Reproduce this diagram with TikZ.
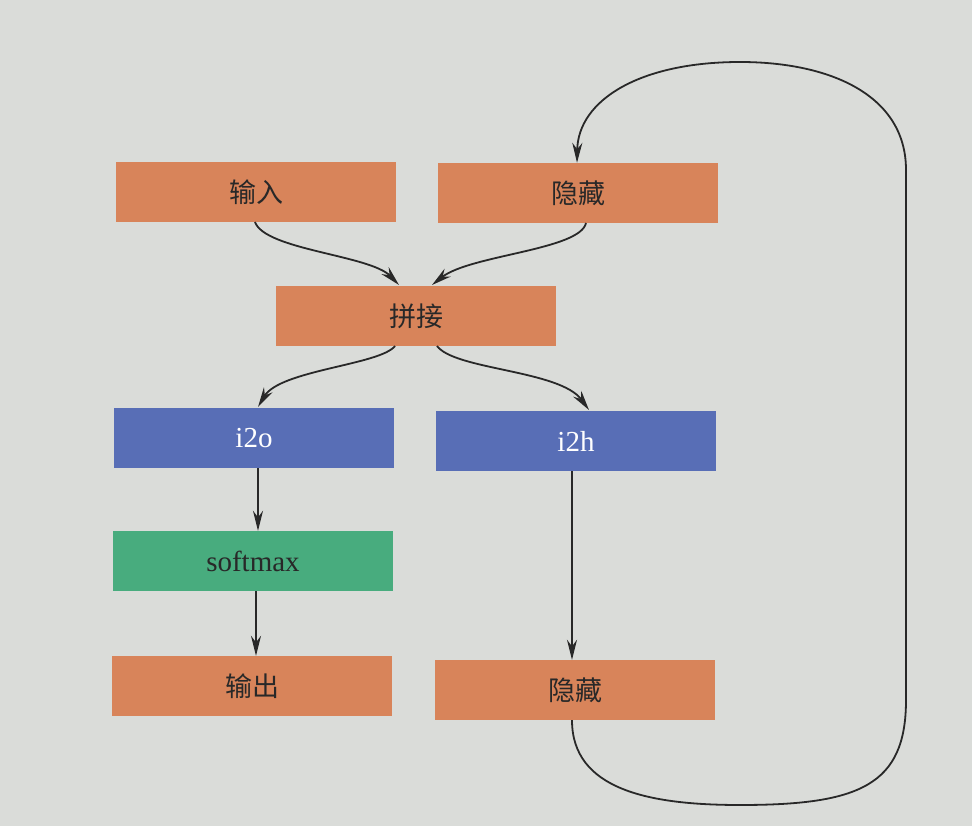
\documentclass[tikz,border=0pt]{standalone}
\usepackage{fontspec}
\setmainfont{Liberation Serif}
\newfontfamily\cjk{Noto Sans CJK SC}
\usetikzlibrary{arrows.meta}
\definecolor{bg}{RGB}{218,220,217}
\definecolor{boxorange}{RGB}{216,132,90}
\definecolor{boxblue}{RGB}{88,110,182}
\definecolor{boxgreen}{RGB}{72,172,126}
\definecolor{ink}{RGB}{40,40,40}
\begin{document}
\begin{tikzpicture}[x=1pt,y=-1pt,
  box/.style={rectangle,minimum width=280pt,minimum height=60pt,inner sep=0pt,font=\fontsize{29}{33}\selectfont},
  obox/.style={box,fill=boxorange,text=ink,font=\cjk\fontsize{27}{31}\selectfont},
  bbox/.style={box,fill=boxblue,text=white},
  gbox/.style={box,fill=boxgreen,text=ink},
  conn/.style={draw=ink,line width=1.8pt,-{Stealth[length=20pt,width=10pt]}}
]
\fill[bg] (0,0) rectangle (972,826);
\useasboundingbox (0,0) rectangle (972,826);
\node[obox] (in) at (256,192) {输入};
\node[obox] (ht) at (578,193) {隐藏};
\node[obox] (cat) at (416,316) {拼接};
\node[bbox] (i2o) at (254,438) {i2o};
\node[bbox] (i2h) at (576,441) {i2h};
\node[gbox] (sm) at (253,561) {softmax};
\node[obox] (out) at (252,686) {输出};
\node[obox] (hb) at (575,690) {隐藏};
\coordinate (b) at (740,805);
\coordinate (t) at (740,62);
\draw[conn] (255,222) .. controls (265,250) and (370,255) .. (399,285);
\draw[conn] (586,223) .. controls (580,250) and (470,255) .. (432,285);
\draw[conn] (395,346) .. controls (380,365) and (280,370) .. (258,407);
\draw[conn] (437,346) .. controls (455,370) and (560,370) .. (589,410);
\draw[conn] (i2o.south -| 258,0) -- (sm.north -| 258,0);
\draw[conn] (sm.south -| 256,0) -- (out.north -| 256,0);
\draw[conn] (i2h.south -| 572,0) -- (hb.north -| 572,0);
\draw[conn] (hb.south -| 572,0) .. controls (572,790) and (650,805) .. (b)
  .. controls (860,805) and (906,785) .. (906,700) -- (906,170)
  .. controls (906,95) and (830,62) .. (t)
  .. controls (640,62) and (578,100) .. (ht.north -| 577,0);
\end{tikzpicture}
\end{document}
